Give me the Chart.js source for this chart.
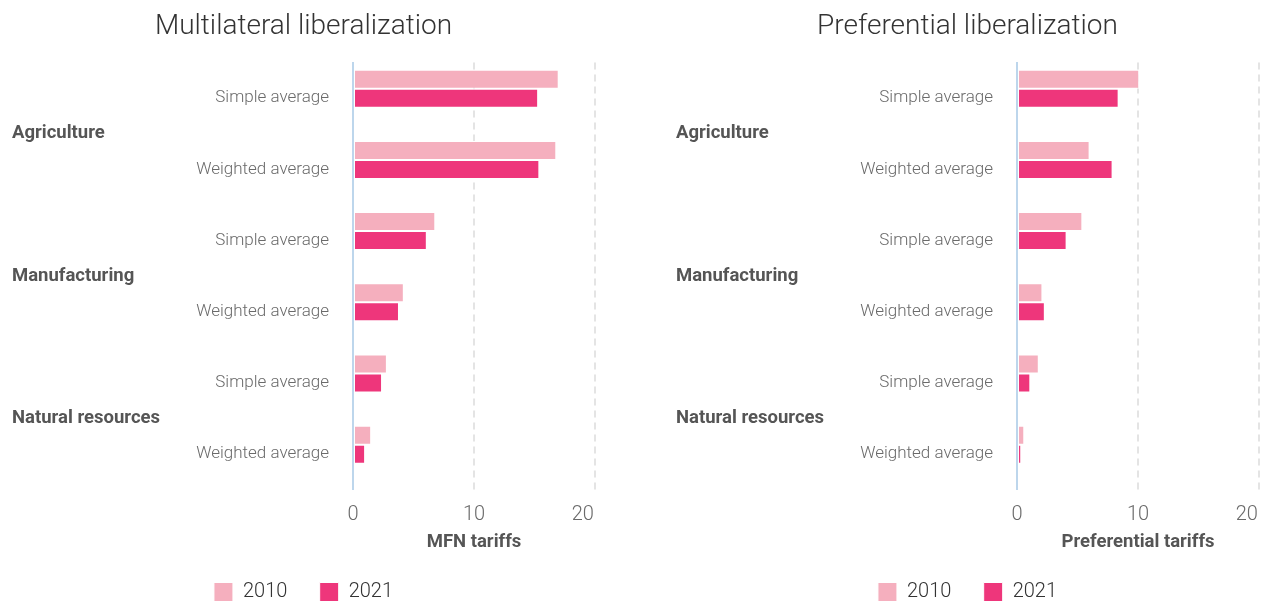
<!DOCTYPE html>
<html>
<head>
<meta charset="utf-8">
<script src="https://cdn.jsdelivr.net/npm/chart.js@4/dist/chart.umd.min.js"></script>
<style>
  html, body { margin: 0; padding: 0; background: #fff; overflow: hidden; width: 1268px; height: 601px; }
  .panel { position: absolute; top: 0; width: 610px; height: 612px; }
  #left { left: 0; }
  #right { left: 664px; }
</style>
</head>
<body>
<div class="panel" id="left"><canvas id="chartMfn" width="610" height="612"></canvas></div>
<div class="panel" id="right"><canvas id="chartPref" width="610" height="612"></canvas></div>
<script>
// --- dados ---
const categories = ['Simple average', 'Weighted average', 'Simple average', 'Weighted average', 'Simple average', 'Weighted average'];
const sectors = ['Agriculture', 'Manufacturing', 'Natural resources'];
const years = ['2010', '2021'];
const xTicks = [0, 10, 20];

const mfn2010 = [17.0, 16.8, 6.8, 4.2, 2.8, 1.5];
const mfn2021 = [15.3, 15.4, 6.1, 3.8, 2.4, 1.0];
const pref2010 = [10.1, 6.0, 5.4, 2.1, 1.8, 0.6];
const pref2021 = [8.4, 7.9, 4.1, 2.3, 1.1, 0.35];

const colors = {
    light: '#f5afbe',
    strong: '#ee367b',
    axis: '#bdd6ec',
    grid: '#e4e4e4',
    text: '#6a6a6a',
    dark: '#555555'
};

Chart.defaults.font.family = 'Roboto, "Open Sans", sans-serif';
Chart.defaults.color = colors.text;

function buildChart(canvasId, title, axisTitle, values2010, values2021) {
    const xMax = xTicks[xTicks.length - 1];
    return new Chart(document.getElementById(canvasId), {
        type: 'bar',
        data: {
            labels: categories,
            datasets: [
                { label: years[0], data: values2010, backgroundColor: colors.light },
                { label: years[1], data: values2021, backgroundColor: colors.strong },
                { label: '', data: [] } // espaço vazio, como no original
            ]
        },
        options: {
            indexAxis: 'y',
            responsive: false,
            animation: false,
            layout: { padding: { left: 12, right: 15, top: 0, bottom: 0 } },
            datasets: {
                bar: {
                    categoryPercentage: 0.8,
                    barPercentage: 1,
                    borderWidth: 1,
                    borderColor: '#ffffff',
                    borderSkipped: false
                }
            },
            plugins: {
                title: {
                    display: true,
                    text: title,
                    color: '#333333',
                    font: { size: 28, weight: '300' },
                    padding: { top: 10, bottom: 19 }
                },
                legend: {
                    position: 'bottom',
                    labels: {
                        boxWidth: 19,
                        boxHeight: 19,
                        padding: 8,
                        color: '#333333',
                        font: { size: 20, weight: '300' },
                        generateLabels: (chart) => {
                            const items = Chart.defaults.plugins.legend.labels.generateLabels(chart)
                                .filter(item => item.text !== '');
                            items[0].text = items[0].text + '     ';
                            return items;
                        }
                    }
                },
                tooltip: { enabled: false }
            },
            scales: {
                x: {
                    min: xTicks[0],
                    max: xMax,
                    afterBuildTicks: (scale) => { scale.ticks = xTicks.map(v => ({ value: v })); },
                    afterFit: (scale) => { scale.paddingRight = 1; },
                    grid: {
                        drawTicks: false,
                        lineWidth: 2,
                        color: (ctx) => ctx.tick && ctx.tick.value === 0 ? 'rgba(0,0,0,0)' : colors.grid
                    },
                    border: { display: false, dash: [7, 5] },
                    ticks: {
                        padding: 13,
                        color: colors.text,
                        font: { size: 20, weight: '300' },
                        // último rótulo fica dentro da área, como no original
                        callback: (value) => value === xMax ? value + '     ' : value
                    },
                    title: {
                        display: true,
                        text: axisTitle,
                        color: colors.dark,
                        font: { size: 18.5, weight: 'bold' },
                        padding: { top: -9, bottom: 21 }
                    }
                },
                y: {
                    position: 'left',
                    weight: 0,
                    grid: { display: false, drawTicks: false },
                    border: { display: true, color: colors.axis, width: 2 },
                    ticks: { padding: 24, color: colors.text, font: { size: 17, weight: '300' }, autoSkip: false },
                    afterFit: (scale) => { scale.width = 170; }
                },
                group: {
                    type: 'category',
                    labels: sectors,
                    position: 'left',
                    weight: 10,
                    offset: true,
                    grid: { display: false, drawTicks: false },
                    border: { display: false },
                    ticks: { crossAlign: 'far', padding: 0, color: colors.dark, font: { size: 18.5, weight: 'bold' }, autoSkip: false },
                    afterFit: (scale) => { scale.width = 171; }
                }
            }
        }
    });
}

buildChart('chartMfn', 'Multilateral liberalization', 'MFN tariffs', mfn2010, mfn2021);
buildChart('chartPref', 'Preferential liberalization', 'Preferential tariffs', pref2010, pref2021);
</script>
</body>
</html>
